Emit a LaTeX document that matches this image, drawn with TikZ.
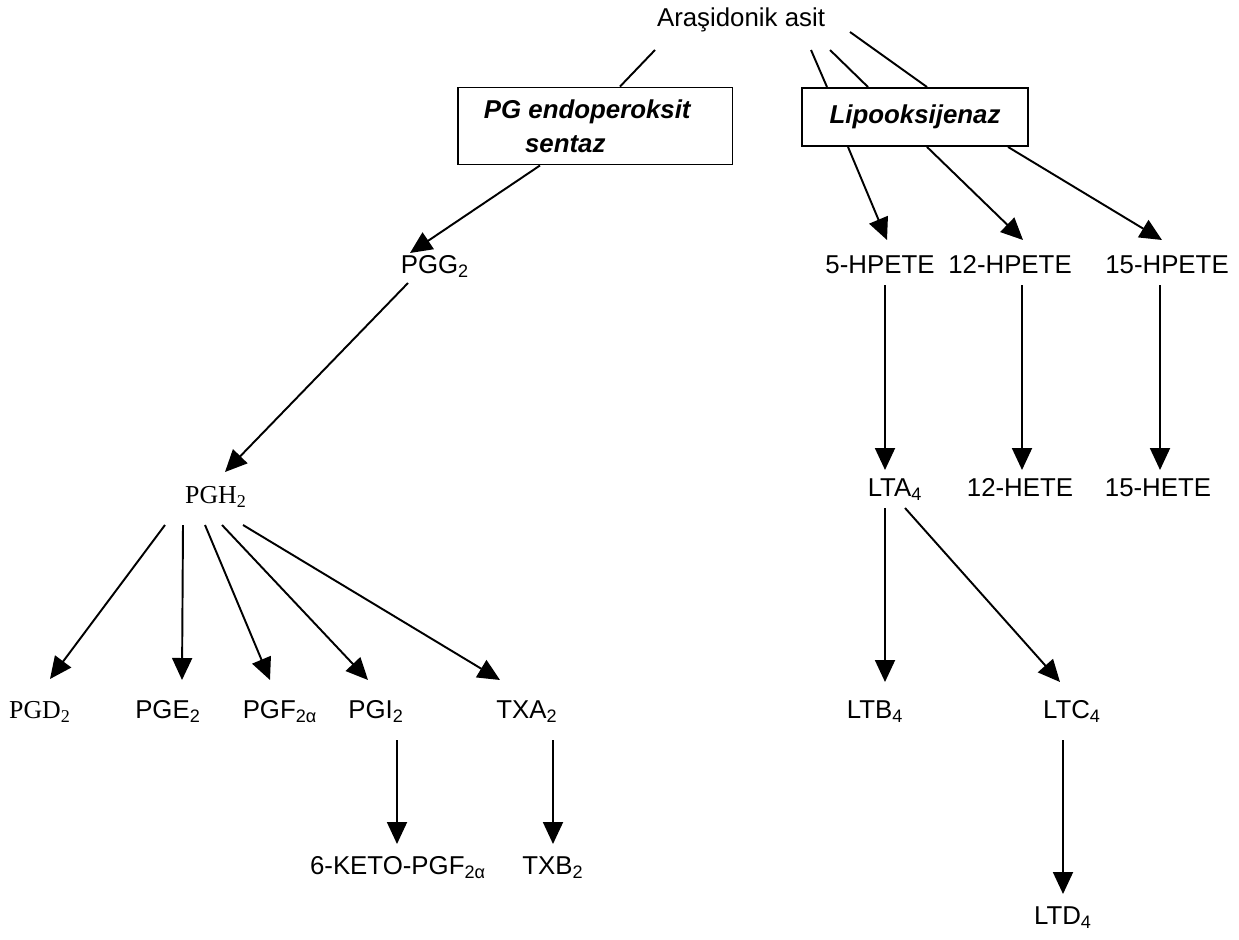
\documentclass[tikz,border=0pt]{standalone}
\usepackage{fontspec}
\setmainfont{Liberation Sans}
\newfontfamily\timesfont{Liberation Serif}
\usetikzlibrary{arrows.meta, calc}

\begin{document}
\begin{tikzpicture}[x=0.02cm, y=-0.02cm,
    every node/.style={font=\fontsize{14.7}{18}\selectfont, inner sep=1pt,
        text height=10.5pt, text depth=3pt},
    serifnode/.style={font=\fontsize{14.7}{18}\selectfont\timesfont},
    enzbox/.style={draw, line width=1.1pt, align=center, text height=, text depth=,
        font=\fontsize{14.7}{19.3}\selectfont\bfseries\itshape},
    conn/.style={line width=1.1pt},
    arr/.style={line width=1.1pt, -{Triangle[length=0.44cm, width=0.4cm]}}]
            \useasboundingbox (0,0) rectangle (1239,939);

            % Nodes
            \node (arach) at (741,20) {Araşidonik asit};
            \node[enzbox, minimum width=5.5cm, minimum height=1.54cm] (pgbox) at (595,126) {PG endoperoksit\hspace*{0.6em}\\sentaz\hspace*{2.3em}};
            \node[enzbox, minimum width=4.52cm, minimum height=1.16cm] (lipobox) at (915,117) {Lipooksijenaz};

            \node (pgg) at (435,267) {PGG\textsubscript{2}};
            \node[serifnode] (pgh) at (216,497) {PGH\textsubscript{2}};

            \node[serifnode] (pgd) at (40,712) {PGD\textsubscript{2}};
            \node (pge) at (168,712) {PGE\textsubscript{2}};
            \node (pgf) at (280,712) {PGF\textsubscript{2α}};
            \node (pgi) at (376,712) {PGI\textsubscript{2}};
            \node (txa) at (527,712) {TXA\textsubscript{2}};
            \node (keto) at (398,868) {6-KETO-PGF\textsubscript{2α}};
            \node (txb) at (553,868) {TXB\textsubscript{2}};

            \node (hpete5) at (880,267) {5-HPETE};
            \node (hpete12) at (1010,267) {12-HPETE};
            \node (hpete15) at (1167,267) {15-HPETE};
            \node (lta) at (895,490) {LTA\textsubscript{4}};
            \node (hete12) at (1020,490) {12-HETE};
            \node (hete15) at (1158,490) {15-HETE};
            \node (ltb) at (875,712) {LTB\textsubscript{4}};
            \node (ltc) at (1072,712) {LTC\textsubscript{4}};
            \node (ltd) at (1063,918) {LTD\textsubscript{4}};

            % Lines to the enzymes
            \draw[conn] ($(arach)+(-86,30)$) -- ($(pgbox.north)+(25,0)$);
            \draw[conn] ($(arach)+(70,30)$) -- ($(lipobox.north)+(-88,0)$);
            \draw[conn] ($(arach)+(89,30)$) -- ($(lipobox.north)+(-47,0)$);
            \draw[conn] ($(arach)+(109,12)$) -- ($(lipobox.north)+(12,0)$);

            % Arrows
            \draw[arr] ($(pgbox.south)+(-55,0)$) -- ($(pgg)+(-25,-14)$);
            \draw[arr] ($(pgg)+(-27,16)$) -- ($(pgh)+(9,-25)$);

            \draw[arr] ($(pgh)+(-51,28)$) -- ($(pgd)+(10,-33)$);
            \draw[arr] ($(pgh)+(-33,28)$) -- ($(pge)+(14,-32)$);
            \draw[arr] ($(pgh)+(-11,28)$) -- ($(pgf)+(-10,-32)$);
            \draw[arr] ($(pgh)+(6,28)$) -- ($(pgi)+(-8,-32)$);
            \draw[arr] ($(pgh)+(27,28)$) -- ($(txa)+(-27,-32)$);

            \draw[arr] ($(pgi)+(21,28)$) -- ($(keto)+(-1,-24)$);
            \draw[arr] ($(txa)+(26,28)$) -- ($(txb)+(0,-24)$);

            \draw[arr] ($(lipobox.south)+(-67,0)$) -- ($(hpete5)+(7,-27)$);
            \draw[arr] ($(lipobox.south)+(12,0)$) -- ($(hpete12)+(13,-27)$);
            \draw[arr] ($(lipobox.south)+(93,0)$) -- ($(hpete15)+(-5,-27)$);

            \draw[arr] ($(hpete5)+(5,18)$) -- ($(lta)+(-10,-20)$);
            \draw[arr] ($(hpete12)+(12,18)$) -- ($(hete12)+(2,-20)$);
            \draw[arr] ($(hpete15)+(-7,18)$) -- ($(hete15)+(2,-20)$);

            \draw[arr] ($(lta)+(-10,18)$) -- ($(ltb)+(10,-30)$);
            \draw[arr] ($(lta)+(10,18)$) -- ($(ltc)+(-12,-30)$);
            \draw[arr] ($(ltc)+(-9,28)$) -- ($(ltd)+(0,-24)$);
            \end{tikzpicture}
\end{document}
